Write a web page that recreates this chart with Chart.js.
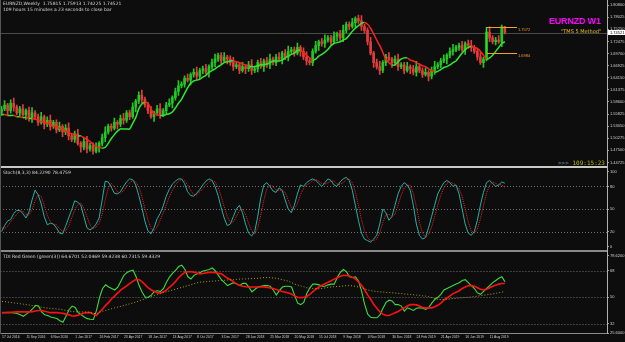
<!DOCTYPE html>
<html>
<head>
<meta charset="utf-8">
<script src="https://cdn.jsdelivr.net/npm/chart.js@4.4.1/dist/chart.umd.min.js"></script>
<style>
    body { margin: 0; background: #0d0d0d; }
    #wrap { position: relative; width: 625px; height: 342px; background: #0d0d0d; overflow: hidden; font-family: 'DejaVu Sans', sans-serif; }
    canvas { position: absolute; left: 0; }
    .t { position: absolute; white-space: nowrap; font-size: 4.5px; color: #d8d8d8; line-height: 1; }
    .ln { position: absolute; }
</style>
</head>
<body>
<div id="wrap">
    <canvas id="cMain" width="625" height="166" style="top:0"></canvas>
    <canvas id="cSto" width="625" height="82" style="top:168px"></canvas>
    <canvas id="cTdi" width="625" height="90" style="top:252px"></canvas>

    <div class="ln" style="left:0;top:166px;width:608px;height:2px;background:#c8c8c8"></div>
    <div class="ln" style="left:0;top:250px;width:608px;height:2px;background:#8a8a8a"></div>
    <div class="ln" style="left:0;top:333px;width:608px;height:1px;background:#8a8a8a"></div>
    <div class="ln" style="left:607px;top:0;width:1px;height:334px;background:#b0b0b0"></div>
    <div class="ln" style="left:0;top:0;width:1px;height:334px;background:#555"></div>

    <div class="t" style="left:3px;top:2px">EURNZD,Weekly&nbsp; 1.75815 1.75913 1.74225 1.74521</div>
    <div class="t" style="left:3px;top:8px">109 hours 15 minutes a 23 seconds to close bar</div>
    <div class="t" style="left:549px;top:17px;font-family:'Liberation Sans',sans-serif;font-weight:bold;font-size:9px;letter-spacing:-0.2px;color:#ff00ff">EURNZD W1</div>
    <div class="t" style="left:561px;top:29px;font-size:5px;color:#e8c21a">"TMS 5 Method"</div>
    <div class="t" style="left:558px;top:160px;font-family:'DejaVu Sans Mono',monospace;font-size:6px;color:#b8b800"><span style="color:#8090b0">&gt;&gt;&gt;</span> 109:15:23</div>
    <div class="t" style="left:3px;top:171px">Stoch(8,3,3) 84.2290 78.4759</div>
    <div class="t" style="left:3px;top:255px">TDI Red Green (green(3)) 64.6701 52.0469 59.4238 60.7315 59.4329</div>
</div>

<script>
// ---- data (weekly bars from 17 Jul 2016) ----
const slots = 199;
const tickLabels = ['17 Jul 2016', '11 Sep 2016', '6 Nov 2016', '1 Jan 2017', '26 Feb 2017', '23 Apr 2017', '18 Jun 2017',
    '13 Aug 2017', '8 Oct 2017', '3 Dec 2017', '28 Jan 2018', '25 Mar 2018', '20 May 2018', '15 Jul 2018', '9 Sep 2018',
    '4 Nov 2018', '30 Dec 2018', '24 Feb 2019', '21 Apr 2019', '16 Jun 2019', '11 Aug 2019'];
const priceTicks = [1.80800, 1.78025, 1.75250, 1.72475, 1.69700, 1.66925, 1.64150, 1.61375, 1.58600, 1.55825, 1.53050, 1.50275, 1.47500, 1.44725];

const opens = [1.562,1.570,1.579,1.566,1.583,1.574,1.561,1.570,1.557,1.566,1.548,1.561,1.552,1.539,1.552,1.535,1.544,1.530,1.539,1.522,
    1.530,1.517,1.526,1.508,1.500,1.513,1.491,1.482,1.495,1.478,1.486,1.473,1.482,1.491,1.504,1.517,1.530,1.526,1.539,1.535,
    1.548,1.544,1.561,1.552,1.574,1.588,1.601,1.592,1.579,1.566,1.552,1.561,1.570,1.557,1.566,1.579,1.583,1.596,1.610,1.623,
    1.627,1.640,1.636,1.649,1.654,1.645,1.658,1.662,1.654,1.667,1.676,1.684,1.693,1.680,1.689,1.684,1.676,1.667,1.671,1.658,
    1.667,1.662,1.671,1.658,1.662,1.676,1.667,1.680,1.671,1.684,1.676,1.689,1.684,1.698,1.689,1.702,1.706,1.698,1.711,1.702,
    1.689,1.680,1.676,1.702,1.715,1.724,1.720,1.728,1.733,1.724,1.737,1.742,1.733,1.750,1.764,1.759,1.768,1.777,1.772,1.759,
    1.750,1.724,1.698,1.676,1.667,1.658,1.676,1.689,1.684,1.676,1.684,1.667,1.671,1.658,1.667,1.662,1.654,1.667,1.658,1.649,
    1.654,1.645,1.658,1.667,1.671,1.680,1.684,1.693,1.702,1.706,1.711,1.715,1.706,1.720,1.715,1.711,1.702,1.689,1.676,1.684,
    1.746,1.733,1.724,1.728,1.724,1.75815];
const highs = [1.576,1.589,1.583,1.591,1.595,1.579,1.576,1.580,1.570,1.574,1.573,1.566,1.558,1.562,1.556,1.552,1.556,1.544,1.545,1.540,
    1.534,1.534,1.538,1.513,1.519,1.523,1.495,1.503,1.507,1.491,1.492,1.492,1.495,1.512,1.529,1.535,1.536,1.549,1.543,1.556,
    1.560,1.566,1.567,1.584,1.592,1.609,1.613,1.597,1.585,1.576,1.565,1.578,1.582,1.571,1.585,1.593,1.600,1.618,1.635,1.632,
    1.646,1.650,1.653,1.662,1.666,1.663,1.668,1.672,1.671,1.684,1.696,1.698,1.699,1.699,1.693,1.692,1.688,1.676,1.677,1.677,
    1.671,1.679,1.683,1.667,1.682,1.686,1.684,1.688,1.696,1.689,1.695,1.699,1.702,1.706,1.714,1.711,1.712,1.721,1.715,1.710,
    1.701,1.685,1.708,1.725,1.728,1.732,1.740,1.738,1.739,1.747,1.746,1.750,1.762,1.769,1.770,1.778,1.781,1.785,1.784,1.764,
    1.756,1.734,1.702,1.684,1.679,1.681,1.695,1.699,1.688,1.692,1.696,1.676,1.677,1.677,1.671,1.670,1.679,1.672,1.664,1.664,
    1.658,1.666,1.679,1.676,1.686,1.694,1.697,1.710,1.718,1.716,1.721,1.725,1.724,1.728,1.727,1.716,1.708,1.699,1.688,1.757,
    1.758,1.738,1.734,1.738,1.762,1.75913];
const lows = [1.555,1.566,1.555,1.560,1.565,1.556,1.554,1.553,1.546,1.542,1.539,1.547,1.532,1.535,1.524,1.529,1.521,1.525,1.515,1.518,
    1.506,1.511,1.499,1.495,1.493,1.487,1.471,1.476,1.469,1.473,1.466,1.469,1.471,1.485,1.495,1.512,1.519,1.522,1.524,1.529,
    1.535,1.539,1.545,1.548,1.563,1.582,1.583,1.574,1.559,1.548,1.541,1.555,1.548,1.552,1.559,1.575,1.572,1.590,1.601,1.618,
    1.620,1.632,1.625,1.643,1.636,1.640,1.651,1.650,1.643,1.661,1.667,1.679,1.673,1.676,1.673,1.670,1.658,1.662,1.651,1.654,
    1.651,1.656,1.649,1.653,1.655,1.663,1.656,1.665,1.662,1.671,1.669,1.680,1.673,1.683,1.680,1.697,1.691,1.694,1.691,1.683,
    1.671,1.671,1.669,1.698,1.704,1.714,1.711,1.723,1.717,1.720,1.726,1.727,1.724,1.745,1.752,1.755,1.757,1.766,1.750,1.745,
    1.717,1.694,1.665,1.661,1.649,1.653,1.669,1.680,1.665,1.670,1.658,1.662,1.651,1.654,1.651,1.648,1.645,1.653,1.642,1.645,
    1.634,1.639,1.649,1.662,1.664,1.676,1.673,1.687,1.693,1.701,1.704,1.702,1.695,1.709,1.702,1.697,1.682,1.672,1.665,1.680,
    1.724,1.719,1.717,1.720,1.713,1.74225];
const closes = [1.570,1.579,1.566,1.583,1.574,1.561,1.570,1.557,1.566,1.548,1.561,1.552,1.539,1.552,1.535,1.544,1.530,1.539,1.522,1.530,
    1.517,1.526,1.508,1.500,1.513,1.491,1.482,1.495,1.478,1.486,1.473,1.482,1.491,1.504,1.517,1.530,1.526,1.539,1.535,1.548,
    1.544,1.561,1.552,1.574,1.588,1.601,1.592,1.579,1.566,1.552,1.561,1.570,1.557,1.566,1.579,1.583,1.596,1.610,1.623,1.627,
    1.640,1.636,1.649,1.654,1.645,1.658,1.662,1.654,1.667,1.676,1.684,1.693,1.680,1.689,1.684,1.676,1.667,1.671,1.658,1.667,
    1.662,1.671,1.658,1.662,1.676,1.667,1.680,1.671,1.684,1.676,1.689,1.684,1.698,1.689,1.702,1.706,1.698,1.711,1.702,1.689,
    1.680,1.676,1.702,1.715,1.724,1.720,1.728,1.733,1.724,1.737,1.742,1.733,1.750,1.764,1.759,1.768,1.777,1.772,1.759,1.750,
    1.724,1.698,1.676,1.667,1.658,1.676,1.689,1.684,1.676,1.684,1.667,1.671,1.658,1.667,1.662,1.654,1.667,1.658,1.649,1.654,
    1.645,1.658,1.667,1.671,1.680,1.684,1.693,1.702,1.706,1.711,1.715,1.706,1.720,1.715,1.711,1.702,1.689,1.676,1.684,1.746,
    1.733,1.724,1.728,1.724,1.758,1.74521];
const trendLine = [1.557,1.557,1.555,1.555,1.555,1.552,1.552,1.550,1.550,1.548,1.548,1.546,1.544,1.541,1.539,1.537,1.535,1.530,1.528,1.526,
    1.524,1.519,1.515,1.513,1.511,1.508,1.508,1.504,1.500,1.495,1.489,1.484,1.482,1.480,1.482,1.491,1.502,1.511,1.519,1.524,
    1.524,1.524,1.524,1.537,1.550,1.570,1.581,1.585,1.583,1.570,1.559,1.557,1.555,1.555,1.557,1.559,1.563,1.572,1.583,1.592,
    1.605,1.618,1.629,1.634,1.636,1.638,1.643,1.647,1.654,1.658,1.662,1.667,1.671,1.676,1.678,1.680,1.680,1.678,1.676,1.673,
    1.671,1.667,1.667,1.667,1.669,1.671,1.671,1.673,1.676,1.680,1.680,1.680,1.682,1.687,1.691,1.695,1.698,1.704,1.704,1.700,
    1.693,1.687,1.682,1.684,1.691,1.695,1.700,1.706,1.715,1.720,1.722,1.724,1.728,1.731,1.739,1.748,1.755,1.761,1.766,1.768,
    1.764,1.755,1.742,1.728,1.715,1.700,1.684,1.676,1.671,1.671,1.678,1.684,1.687,1.687,1.682,1.680,1.676,1.673,1.669,1.667,
    1.662,1.658,1.654,1.656,1.660,1.665,1.667,1.671,1.676,1.680,1.689,1.698,1.706,1.711,1.713,1.711,1.709,1.702,1.693,1.684,
    1.687,1.693,1.702,1.711,1.720,1.724];
const boxTop = 1.7572, boxBottom = 1.6984, boxFrom = 159, boxTo = 169;

const stochMain = [20,28,34,36,44,48,48,44,38,46,62,75,69,57,40,29,31,30,25,18,
    17,27,38,49,61,59,55,40,25,22,25,30,38,62,87,86,79,71,70,73,
    80,86,90,89,82,68,52,34,21,17,25,37,44,54,67,76,83,87,90,90,
    84,73,68,67,71,76,82,87,90,88,80,68,52,38,28,30,40,50,55,45,
    30,18,14,20,40,65,82,85,80,74,72,78,75,62,50,45,55,70,82,80,
    85,88,90,88,84,80,85,90,88,82,80,86,90,92,88,75,55,35,18,10,
    8,6,10,15,30,50,45,35,40,55,70,80,85,82,75,55,30,15,10,12,
    25,40,55,70,78,85,88,85,80,82,70,50,30,18,15,20,35,55,72,85,
    88,84,80,82,86,84.229];
const stochSignal = [25,24,27,33,38,43,47,47,43,42,49,61,69,67,55,42,33,30,29,24,
    20,21,27,38,49,56,58,51,40,29,24,26,31,43,62,78,84,79,73,71,
    74,80,85,88,86,80,67,51,36,24,21,26,35,45,55,66,75,82,87,89,
    88,82,75,69,69,73,77,82,86,88,86,79,67,53,40,32,33,40,48,50,
    43,31,21,17,25,42,62,77,82,80,75,75,75,72,62,52,50,57,69,77,
    82,84,88,89,87,84,83,85,87,87,83,83,85,89,90,85,73,55,36,21,
    12,8,8,10,18,32,42,43,40,43,55,68,78,82,81,71,53,33,18,12,
    16,26,40,55,68,78,84,86,84,82,77,67,50,33,21,18,23,37,54,71,
    82,86,84,82,82,78.476];
const stochLevels = [80, 50, 20];

const tdiGreen = [39.5,39.5,39.5,39.5,39.3,38.9,38,37,38.5,40,42,44.5,44,40,38,37.5,36.5,36,35.5,34,
    33,37,41.5,44,43,39.5,38,36.5,35.4,35,34.8,41,50,56,58.5,57,56,55,57,61,
    65,67,68,68.5,64,58,53.5,50,50,51.5,54,54.5,54,56,60.5,64,66.5,68.5,71,72,
    69,64,62.5,65,66,67,68,68.5,69,70,68,65,62,60,58,59,60,59,58.1,59.5,
    59.5,57,53.7,55.5,57,57.5,58,58,57.5,55,51.5,54.5,57,57.5,57.5,57,51.5,46,45,46.5,
    52.6,56.5,59,59,58.5,57.5,57.5,58.5,59,59,63.5,67,69,67.5,64,63.5,64,61,54,45,
    38.5,36.3,36,36,38,42.5,46.5,48,47.5,45,45,44,40.6,42.8,42,41,42.5,42.8,42.5,41.7,
    43,46,48.5,50,52,55,56,57,58,59,60,61.5,62,60,58,56,53,52,54,56,
    58,60,61.5,63,64,60.73];
const tdiRed = [39.5,39.6,39.7,39.8,39.9,40,40,40,40,40,40.2,40.6,41,41,40.5,40,39.5,39.5,39.5,39.3,
    39,38.5,38,37.2,37.3,37.8,38.5,39.3,39.5,39.5,38.5,37.5,40,42,44.5,46.5,49,51,53,55,
    56.5,58,59.5,61,62.3,62,60.5,58.5,56.5,55,54,53,53,53.7,55,57,58.7,61,63.5,65.5,
    67,67.5,67.5,67.2,66.5,66,66.3,66.7,67,67,66.8,66.4,66,64.5,63,62,60.5,59.2,58,57.5,
    57.2,57,57,57,57,57,57,56.8,56.4,56,55.4,54.6,54,53.5,53,52.2,50.8,50,49.8,50,
    50.6,52,53.8,55.5,57,58.2,59.3,60.3,61.3,62.4,63.4,64.3,65,64.9,64.6,63.6,62.4,60.5,58,55,
    51.5,48.5,45,42.5,40,38.5,37.6,37.6,38.5,39.5,40.3,41.7,42.8,44,45,45,44.8,44,43,42.8,
    42.8,42.8,43.5,44.5,46,48,49.5,51,52.5,53.5,54.5,56,57,58,58,57.5,56.5,55.5,55,55.5,
    56.5,57.5,58.3,59,59.4,59.43];
const tdiBase = [47.2,47,46.7,46.4,46.1,45.9,45.6,45.3,45,44.7,44.4,44,43.6,43.2,42.8,42.6,42.4,42.2,42,41.9,
    41.5,41,40.6,40.3,40.1,40,40,40,40,39.6,39,38.7,39.8,40.5,41,41.6,42.2,42.8,43.3,43.8,
    44.4,45,45.6,46.2,46.8,47.6,48.3,49,49.8,50.6,51.2,51.8,52.5,53.2,53.8,54.4,55,55.6,56.2,56.8,
    57.4,58,58.6,59.3,59.9,60.3,60.5,60.7,60.9,61,61.2,61.4,61.5,61.6,61.8,61.9,62,62.2,62.4,62.5,
    62.6,62.7,62.8,62.9,63,63.2,63.5,63.5,63.4,63.2,63,62.6,62,61.5,61,60,59,58.3,57.8,57.2,
    56.5,56.2,56,55.9,55.8,56,56.4,56.8,57,57.2,57.4,57.5,57.7,57.9,58,57.8,57.5,57,56.5,55.8,
    55,54.6,54.2,53.9,53.7,53.6,53.4,53.3,53.1,52.9,52.7,52.5,52.3,52.1,51.9,51.7,51.5,51.3,51,50.8,
    50.4,49.8,49.2,48.6,48.4,48.5,48.7,48.9,49.1,49.3,49.5,49.7,49.9,50,50.2,50.5,50.8,51.1,51.4,51.7,
    52,52.3,52.7,53.1,53.5,54];
const tdiLevels = [68, 50, 32];
const tdiMin = 25.60, tdiMax = 78.62;

// ---- helpers ----
const labels = Array.from({ length: slots }, (_, i) => i);
const UP = '#22c822', DOWN = '#e23c3c';
const candleColors = closes.map((c, i) => c >= opens[i] ? UP : DOWN);

function baseOptions(min, max, tickValues, fmt) {
    return {
        responsive: false, animation: false, devicePixelRatio: 1,
        layout: { padding: 0 },
        plugins: { legend: { display: false }, tooltip: { enabled: false } },
        scales: {
            x: { type: 'category', offset: true, display: false, grid: { display: false } },
            y: {
                position: 'right', min: min, max: max,
                afterFit: s => { s.width = 18; },
                afterBuildTicks: s => { s.ticks = tickValues.map(v => ({ value: v })); },
                grid: { display: true, drawOnChartArea: false, tickLength: 2, color: '#9a9a9a' },
                border: { display: false },
                ticks: { color: '#d0d0d0', font: { size: 4, family: 'Liberation Sans' }, padding: 1, callback: fmt }
            }
        }
    };
}

function levelPlugin(levels) {
    return {
        id: 'levels',
        beforeDatasetsDraw(chart) {
            const { ctx, chartArea: a, scales: { y } } = chart;
            ctx.save();
            ctx.strokeStyle = '#707070';
            ctx.lineWidth = 1;
            ctx.setLineDash([1, 2]);
            levels.forEach(v => {
                const py = Math.round(y.getPixelForValue(v)) + 0.5;
                ctx.beginPath(); ctx.moveTo(a.left, py); ctx.lineTo(a.right, py); ctx.stroke();
            });
            ctx.restore();
        }
    };
}

// ---- main price chart ----
const mainExtras = {
    id: 'mainExtras',
    beforeDatasetsDraw(chart) {
        const { ctx, chartArea: a, scales: { y } } = chart;
        const py = Math.round(y.getPixelForValue(closes[closes.length - 1])) + 0.5;
        ctx.save();
        ctx.strokeStyle = '#4a4a4a';
        ctx.lineWidth = 1;
        ctx.beginPath(); ctx.moveTo(a.left, py); ctx.lineTo(a.right, py); ctx.stroke();
        ctx.restore();
    },
    afterDatasetsDraw(chart) {
        const { ctx, chartArea: a, scales: { x, y } } = chart;
        const x0 = x.getPixelForValue(boxFrom), x1 = x.getPixelForValue(boxTo);
        const yt = Math.round(y.getPixelForValue(boxTop)) + 0.5, yb = Math.round(y.getPixelForValue(boxBottom)) + 0.5;
        ctx.save();
        ctx.lineWidth = 1;
        ctx.strokeStyle = '#f0a030';
        ctx.beginPath(); ctx.moveTo(x0, yt); ctx.lineTo(x1, yt); ctx.moveTo(x0, yb); ctx.lineTo(x1, yb); ctx.stroke();
        ctx.strokeStyle = '#30e030';
        ctx.beginPath(); ctx.moveTo(x0, yt); ctx.lineTo(x0, yb); ctx.stroke();
        ctx.fillStyle = '#f0a030';
        ctx.font = '4px Liberation Sans';
        ctx.textBaseline = 'middle';
        ctx.fillText(boxTop.toFixed(4), x1 + 1, yt + 2);
        ctx.fillText(boxBottom.toFixed(4), x1 + 1, yb + 2);
        // current price tag on the axis
        const last = closes[closes.length - 1];
        const pl = y.getPixelForValue(last);
        ctx.fillStyle = '#ffffff';
        ctx.fillRect(a.right + 1, pl - 2.5, 17, 5);
        ctx.fillStyle = '#000000';
        ctx.fillText(last.toFixed(5), a.right + 3, pl + 0.2);
        ctx.restore();
    }
};

new Chart(document.getElementById('cMain'), {
    type: 'bar',
    data: {
        labels: labels,
        datasets: [
            {
                type: 'line', data: trendLine, borderWidth: 1.5, pointRadius: 0, tension: 0.3,
                segment: { borderColor: c => c.p1.parsed.y >= c.p0.parsed.y ? '#2ee82e' : '#ff2020' },
                order: 0
            },
            {
                data: opens.map((o, i) => [o, closes[i]]), backgroundColor: candleColors,
                barThickness: 2, grouped: false, minBarLength: 1, order: 1
            },
            {
                data: lows.map((l, i) => [l, highs[i]]), backgroundColor: candleColors,
                barThickness: 1, grouped: false, order: 2
            }
        ]
    },
    options: baseOptions(1.4468, 1.8120, priceTicks, v => v.toFixed(5)),
    plugins: [mainExtras]
});

// ---- stochastic ----
new Chart(document.getElementById('cSto'), {
    type: 'line',
    data: {
        labels: labels,
        datasets: [
            { data: stochSignal, borderColor: '#ff2020', borderWidth: 1, borderDash: [1, 1], pointRadius: 0 },
            { data: stochMain, borderColor: '#20b2aa', borderWidth: 1, pointRadius: 0 }
        ]
    },
    options: baseOptions(0, 100, [0, 20, 50, 80, 100], v => String(v)),
    plugins: [levelPlugin(stochLevels)]
});

// ---- TDI ----
const tdiOpts = baseOptions(tdiMin, tdiMax, [tdiMin, 32, 50, 68, tdiMax], v => (v === 32 || v === 50 || v === 68) ? String(v) : v.toFixed(4));
tdiOpts.scales.x = {
    type: 'category', offset: true, display: true,
    afterFit: s => { s.height = 9; },
    grid: { display: false, drawTicks: false, tickLength: 0 }, border: { display: false },
    ticks: {
        autoSkip: false, maxRotation: 0, align: 'start', padding: 2,
        color: '#d0d0d0', font: { size: 3.4, family: 'Liberation Sans' },
        callback: (v, i) => (i % 8 === 0 && tickLabels[i / 8]) ? tickLabels[i / 8] : ''
    }
};
new Chart(document.getElementById('cTdi'), {
    type: 'line',
    data: {
        labels: labels,
        datasets: [
            { data: tdiBase, borderColor: '#b0a820', borderWidth: 1, borderDash: [1, 2], pointRadius: 0 },
            { data: tdiRed, borderColor: '#ff1010', borderWidth: 1.6, pointRadius: 0 },
            { data: tdiGreen, borderColor: '#3cdc3c', borderWidth: 1.1, pointRadius: 0 }
        ]
    },
    options: tdiOpts,
    plugins: [levelPlugin(tdiLevels)]
});
</script>
</body>
</html>
